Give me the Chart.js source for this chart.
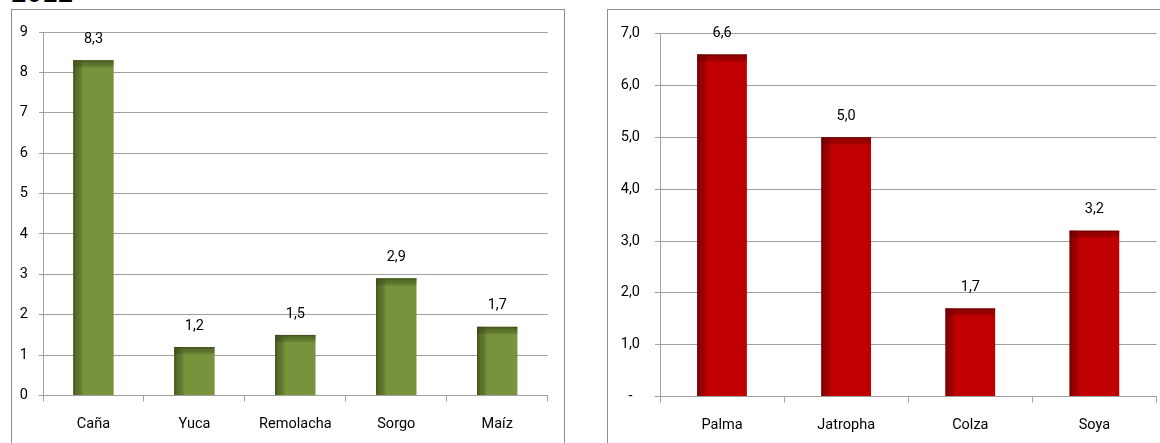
<!DOCTYPE html>
<html>
<head>
<meta charset="utf-8">
<script src="https://cdn.jsdelivr.net/npm/chart.js@4/dist/chart.umd.min.js"></script>
<style>
  html, body { margin: 0; padding: 0; background: #fff; overflow: hidden; }
  body { width: 1160px; height: 443px; position: relative; }
  .year { position: absolute; left: 11px; top: -21px; font: 28px "Liberation Sans", Arial, sans-serif; line-height: 28px; color: #000; }
  .frame { position: absolute; border: 1px solid #8e8e8e; border-bottom: none; height: 460px; }
  .frame canvas { position: absolute; left: 0; top: 0; }
</style>
</head>
<body>
<div class="year">2012</div>
<div class="frame" style="left:11px; top:9px; width:552px;"><canvas id="etanol"></canvas></div>
<div class="frame" style="left:607px; top:9px; width:560px;"><canvas id="biodiesel"></canvas></div>
<script>
// Cultivos para etanol
const cultivosEtanol = ['Caña', 'Yuca', 'Remolacha', 'Sorgo', 'Maíz'];
const valoresEtanol = [8.3, 1.2, 1.5, 2.9, 1.7];
const ticksEtanol = [0, 1, 2, 3, 4, 5, 6, 7, 8, 9];

// Cultivos para biodiésel
const cultivosBiodiesel = ['Palma', 'Jatropha', 'Colza', 'Soya'];
const valoresBiodiesel = [6.6, 5.0, 1.7, 3.2];
const ticksBiodiesel = [0, 1, 2, 3, 4, 5, 6, 7];

const FONT = 'Roboto, "Liberation Sans", Arial, sans-serif';
const FSIZE = 14.5;
const GRID = '#a0a0a0';

// One decimal with a decimal comma
const coma = v => v.toFixed(1).replace('.', ',');

// Value labels above each bar plus a bevel shade on the left and top edges
const barDecor = {
  id: 'barDecor',
  afterDatasetsDraw(chart, args, opts) {
    const ctx = chart.ctx;
    const meta = chart.getDatasetMeta(0);
    const data = chart.data.datasets[0].data;
    meta.data.forEach((bar, i) => {
      const left = bar.x - bar.width / 2;
      const top = bar.y;
      const h = bar.base - bar.y;
      ctx.save();
      let g = ctx.createLinearGradient(left, 0, left + 10, 0);
      g.addColorStop(0, opts.shade);
      g.addColorStop(0.3, opts.shadeMid);
      g.addColorStop(1, 'rgba(0,0,0,0)');
      ctx.fillStyle = g;
      ctx.fillRect(left, top, 10, h);
      g = ctx.createLinearGradient(0, top, 0, top + 8);
      g.addColorStop(0, opts.shade);
      g.addColorStop(0.3, opts.shadeMid);
      g.addColorStop(1, 'rgba(0,0,0,0)');
      ctx.fillStyle = g;
      ctx.fillRect(left, top, bar.width, 8);
      ctx.fillStyle = '#000';
      ctx.font = FSIZE + 'px ' + FONT;
      ctx.textAlign = 'center';
      ctx.textBaseline = 'middle';
      ctx.fillText(opts.fmt(data[i]), bar.x, top - 21);
      ctx.restore();
    });
  }
};

function crear(id, w, h, labels, values, color, shade, shadeMid, valFmt, yMax, yTicks, yFmt, yWidth, yPad, yTick, padRight, xHeight) {
  const cv = document.getElementById(id);
  cv.width = w; cv.height = h;
  cv.style.width = w + 'px'; cv.style.height = h + 'px';
  return new Chart(cv, {
    type: 'bar',
    data: { labels, datasets: [{ data: values, backgroundColor: color, barPercentage: 0.4, categoryPercentage: 1 }] },
    options: {
      responsive: false,
      animation: false,
      devicePixelRatio: 1,
      layout: { padding: { top: 22, right: padRight, left: 0, bottom: 0 } },
      plugins: { legend: { display: false }, tooltip: { enabled: false }, barDecor: { shade, shadeMid, fmt: valFmt } },
      scales: {
        x: {
          offset: true,
          grid: { display: true, drawOnChartArea: false, drawTicks: true, tickLength: 6, color: GRID, offset: true },
          border: { display: true, color: GRID, width: 1 },
          ticks: { color: '#000', font: { family: FONT, size: FSIZE }, padding: 14, maxRotation: 0 },
          afterFit(s) { s.height = xHeight; }
        },
        y: {
          min: 0, max: yMax,
          afterBuildTicks(s) { s.ticks = yTicks.map(v => ({ value: v })); },
          grid: { color: GRID, tickLength: yTick, drawTicks: true },
          border: { display: true, color: GRID, width: 1 },
          ticks: { color: '#000', font: { family: FONT, size: FSIZE }, padding: yPad, callback: yFmt },
          afterFit(s) { s.width = yWidth; }
        }
      }
    },
    plugins: [barDecor]
  });
}

crear('etanol', 552, 434, cultivosEtanol, valoresEtanol, '#77933c', 'rgba(55,70,22,0.9)', 'rgba(60,75,25,0.5)',
      v => String(v).replace('.', ','),
      9, ticksEtanol, v => String(v), 31, 11, 4, 16.3, 48.5);

crear('biodiesel', 552, 434, cultivosBiodiesel, valoresBiodiesel, '#c00000', 'rgba(95,0,0,0.9)', 'rgba(110,0,0,0.5)',
      coma,
      7, ticksBiodiesel, v => v === 0 ? '-\u2002' : coma(v), 52, 15, 5, 3.5, 47.5);
</script>
</body>
</html>
